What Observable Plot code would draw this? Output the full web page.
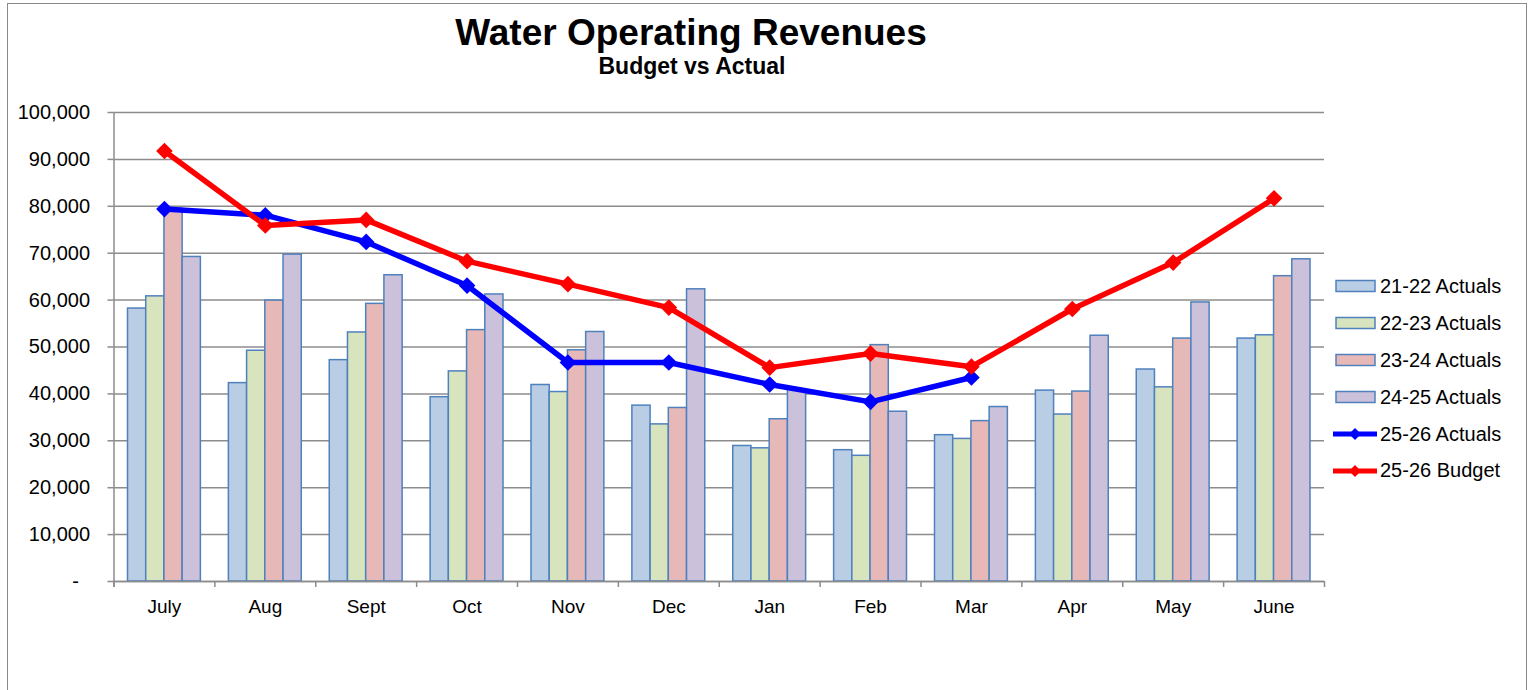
<!DOCTYPE html>
<html>
<head>
<meta charset="utf-8">
<script src="https://cdn.jsdelivr.net/npm/d3@7"></script>
<script src="https://cdn.jsdelivr.net/npm/@observablehq/plot@0.6"></script>
<style>
  html, body { margin: 0; padding: 0; background: #fff; }
  body { width: 1530px; height: 690px; overflow: hidden; position: relative; font-family: "Liberation Sans", Arial, sans-serif; }
  #frame { position: absolute; left: 7px; top: 3px; width: 1518px; height: 720px; border: 1.5px solid #8a8a8a; }
  #title { position: absolute; left: 0; width: 1382px; top: 14px; text-align: center; font-weight: bold; font-size: 37px; line-height: 37px; color: #000; }
  #subtitle { position: absolute; left: 0; width: 1384px; top: 55px; text-align: center; font-weight: bold; font-size: 23px; line-height: 23px; color: #000; }
  #chart { position: absolute; left: 0; top: 90px; }
  #legend { position: absolute; left: 1333px; top: 268px; }
  .item { height: 36.9px; display: flex; align-items: center; font-size: 20px; color: #000; white-space: nowrap; }
  .item svg { margin-right: 3px; }
</style>
</head>
<body>
<div id="frame"></div>
<div id="title">Water Operating Revenues</div>
<div id="subtitle">Budget vs Actual</div>
<div id="chart"></div>
<div id="legend"></div>
<script>
// ---- data ----
const months = ["July","Aug","Sept","Oct","Nov","Dec","Jan","Feb","Mar","Apr","May","June"];
const seriesNames = ["21-22 Actuals","22-23 Actuals","23-24 Actuals","24-25 Actuals","25-26 Actuals","25-26 Budget"];
const a2122 = [58200, 42300, 47200, 39300, 41900, 37500, 28900, 28000, 31200, 40700, 45200, 51800];
const a2223 = [60800, 49200, 53100, 44800, 40400, 33500, 28400, 26800, 30400, 35600, 41400, 52500];
const a2324 = [79500, 59900, 59200, 53600, 49300, 37000, 34600, 50400, 34200, 40500, 51800, 65100];
const a2425 = [69200, 69700, 65300, 61200, 53200, 62300, 41000, 36200, 37200, 52400, 59500, 68700];
const act2526 = [79400, 78100, 72400, 63100, 46700, 46700, 42000, 38300, 43500];
const bud2526 = [91800, 75900, 77100, 68300, 63400, 58400, 45600, 48600, 45800, 58100, 68000, 81700];
const yTicks = [0, 10000, 20000, 30000, 40000, 50000, 60000, 70000, 80000, 90000, 100000];

// ---- styles ----
const barFills = ["#b9cde5", "#d7e4bd", "#e6b9b8", "#ccc1da"];
const barStroke = "#4f81bd";
const gridColor = "#8c8c8c";
const W = 1530, H = 600, mT = 22, mB = 109, mL = 113.5, mR = 206;
const bw = (W - mL - mR) / months.length;
const plotH = H - mT - mB;
const groupPad = 14;
const barW = (bw - 2 * groupPad) / 4;

const toRows = (vals) => vals.map((v, i) => ({month: months[i], value: v}));
const barSeries = [a2122, a2223, a2324, a2425];

const barMarks = barSeries.map((vals, i) => Plot.barY(toRows(vals), {
  x: "month", y: "value",
  fill: barFills[i], stroke: barStroke, strokeWidth: 1.5,
  insetLeft: groupPad + i * barW, insetRight: groupPad + (3 - i) * barW
}));

const actRows = toRows(act2526);
const budRows = toRows(bud2526);

const chart = Plot.plot({
  width: W, height: H,
  marginTop: mT, marginBottom: mB, marginLeft: mL, marginRight: mR,
  x: {domain: months, padding: 0, round: false, axis: null, label: null},
  y: {domain: [0, 100000], axis: null, label: null},
  style: {fontFamily: "'Liberation Sans', Arial, sans-serif", fontSize: "20px", color: "#000", background: "transparent", overflow: "visible"},
  marks: [
    Plot.gridY(yTicks, {stroke: gridColor, strokeOpacity: 1, strokeWidth: 1.5}),
    ...barMarks,
    Plot.ruleY([0], {stroke: gridColor, strokeWidth: 1.5}),
    Plot.ruleX(months, {dx: -bw / 2, insetTop: plotH, insetBottom: -6, stroke: gridColor, strokeWidth: 1.5}),
    Plot.ruleX([months[months.length - 1]], {dx: bw / 2, insetTop: plotH, insetBottom: -6, stroke: gridColor, strokeWidth: 1.5}),
    Plot.ruleX([months[0]], {dx: -bw / 2, insetBottom: -6, stroke: gridColor, strokeWidth: 1.5}),
    Plot.axisY(yTicks, {
      label: null,
      tickSize: 6, tickPadding: 18, stroke: gridColor, strokeWidth: 1.5, fill: "#000", fontSize: 20,
      tickFormat: d => d === 0 ? "-\u2007" : d3.format(",")(d)
    }),
    Plot.axisX({label: null, tickSize: 0, tickPadding: 18, fontSize: 19, fill: "#000"}),
    Plot.line(actRows, {x: "month", y: "value", stroke: "#0000ff", strokeWidth: 5.5}),
    Plot.dot(actRows, {x: "month", y: "value", symbol: "diamond2", r: 7.5, fill: "#0000ff"}),
    Plot.line(budRows, {x: "month", y: "value", stroke: "#ff0000", strokeWidth: 5.5}),
    Plot.dot(budRows, {x: "month", y: "value", symbol: "diamond2", r: 7.5, fill: "#ff0000"})
  ]
});
document.getElementById("chart").appendChild(chart);

// ---- legend ----
const legend = document.getElementById("legend");
const lineColors = ["#0000ff", "#ff0000"];
seriesNames.forEach((name, i) => {
  const item = document.createElement("div");
  item.className = "item";
  let sw;
  if (i < 4) {
    sw = `<svg width="44" height="14"><rect x="3" y="1.5" width="39" height="11" fill="${barFills[i]}" stroke="${barStroke}" stroke-width="1.5"/></svg>`;
  } else {
    const c = lineColors[i - 4];
    sw = `<svg width="44" height="14"><line x1="0" y1="7" x2="44" y2="7" stroke="${c}" stroke-width="5"/><path d="M22,1 L28,7 L22,13 L16,7 Z" fill="${c}"/></svg>`;
  }
  item.innerHTML = sw + `<span>${name}</span>`;
  legend.appendChild(item);
});
</script>
</body>
</html>
